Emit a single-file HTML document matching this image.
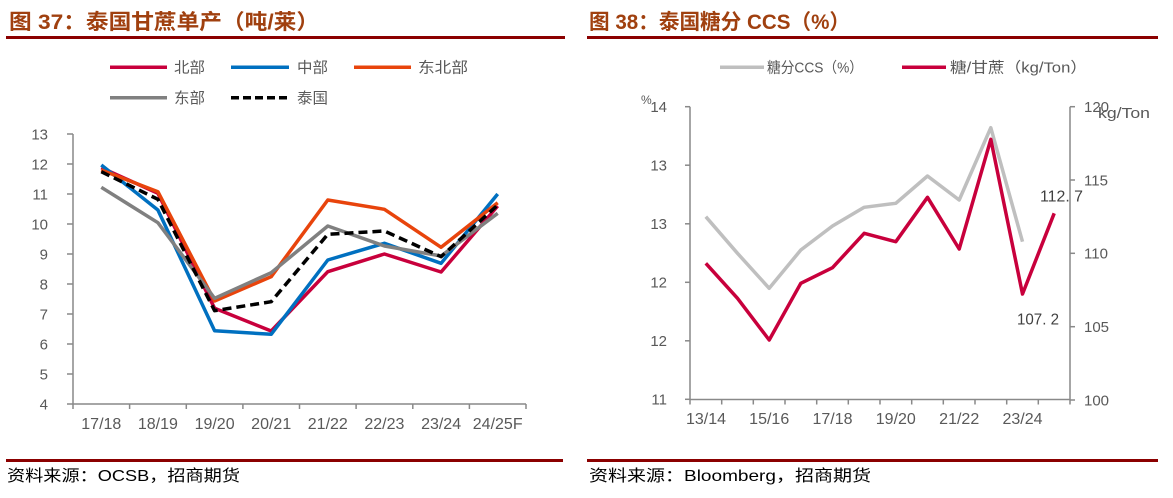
<!DOCTYPE html>
<html>
<head>
<meta charset="utf-8">
<style>
html,body{margin:0;padding:0;background:#fff;}
svg{display:block;}
text{font-family:"Liberation Sans","Noto Sans CJK SC",sans-serif;}
</style>
</head>
<body>
<svg width="1173" height="498" viewBox="0 0 1173 498" xmlns="http://www.w3.org/2000/svg">
<rect width="1173" height="498" fill="#ffffff"/>

<!-- Titles -->
<text x="9" y="29" font-size="21" font-weight="bold" fill="#A0400F" textLength="310" lengthAdjust="spacingAndGlyphs">图 37：泰国甘蔗单产（吨/莱）</text>
<text x="589" y="29" font-size="21" font-weight="bold" fill="#A0400F" textLength="261" lengthAdjust="spacingAndGlyphs">图 38：泰国糖分 CCS（%）</text>
<rect x="6" y="36" width="559" height="3" fill="#8B0000"/>
<rect x="587" y="36" width="571" height="3" fill="#8B0000"/>

<!-- Footer -->
<rect x="6" y="459" width="557" height="3" fill="#8B0000"/>
<rect x="587" y="459" width="571" height="3" fill="#8B0000"/>
<text x="7" y="481" font-size="16" fill="#000" textLength="233" lengthAdjust="spacingAndGlyphs">资料来源：OCSB，招商期货</text>
<text x="589" y="481" font-size="16" fill="#000" textLength="282" lengthAdjust="spacingAndGlyphs">资料来源：Bloomberg，招商期货</text>

<!-- ===== Left chart legend ===== -->
<g font-size="15" fill="#595959">
<line x1="110" y1="67.3" x2="167" y2="67.3" stroke="#C8003C" stroke-width="3.5"/>
<text x="174" y="72.5" textLength="31" lengthAdjust="spacingAndGlyphs">北部</text>
<line x1="231" y1="67.3" x2="289" y2="67.3" stroke="#0070C0" stroke-width="3.5"/>
<text x="297" y="72.5" textLength="31" lengthAdjust="spacingAndGlyphs">中部</text>
<line x1="354" y1="67.3" x2="411" y2="67.3" stroke="#E8440C" stroke-width="3.5"/>
<text x="418" y="72.5" textLength="50" lengthAdjust="spacingAndGlyphs">东北部</text>
<line x1="110" y1="97.7" x2="167" y2="97.7" stroke="#808080" stroke-width="3.5"/>
<text x="174" y="103" textLength="31" lengthAdjust="spacingAndGlyphs">东部</text>
<line x1="231" y1="97.7" x2="289" y2="97.7" stroke="#000" stroke-width="3.5" stroke-dasharray="8,4"/>
<text x="297" y="103" textLength="31" lengthAdjust="spacingAndGlyphs">泰国</text>
</g>

<!-- ===== Left chart axes ===== -->
<g stroke="#898989" stroke-width="1.5" fill="none">
<line x1="73" y1="134" x2="73" y2="404"/>
<line x1="73" y1="404" x2="526" y2="404"/>
<line x1="67" y1="134" x2="73" y2="134"/>
<line x1="67" y1="164" x2="73" y2="164"/>
<line x1="67" y1="194" x2="73" y2="194"/>
<line x1="67" y1="224" x2="73" y2="224"/>
<line x1="67" y1="254" x2="73" y2="254"/>
<line x1="67" y1="284" x2="73" y2="284"/>
<line x1="67" y1="314" x2="73" y2="314"/>
<line x1="67" y1="344" x2="73" y2="344"/>
<line x1="67" y1="374" x2="73" y2="374"/>
<line x1="67" y1="404" x2="73" y2="404"/>
<line x1="73" y1="404" x2="73" y2="409"/>
<line x1="129.6" y1="404" x2="129.6" y2="409"/>
<line x1="186.3" y1="404" x2="186.3" y2="409"/>
<line x1="242.9" y1="404" x2="242.9" y2="409"/>
<line x1="299.5" y1="404" x2="299.5" y2="409"/>
<line x1="356.1" y1="404" x2="356.1" y2="409"/>
<line x1="412.8" y1="404" x2="412.8" y2="409"/>
<line x1="469.4" y1="404" x2="469.4" y2="409"/>
<line x1="526" y1="404" x2="526" y2="409"/>
</g>
<g font-size="15" fill="#595959" text-anchor="end">
<text x="48" y="139.5">13</text>
<text x="48" y="169.5">12</text>
<text x="48" y="199.5">11</text>
<text x="48" y="229.5">10</text>
<text x="48" y="259.5">9</text>
<text x="48" y="289.5">8</text>
<text x="48" y="319.5">7</text>
<text x="48" y="349.5">6</text>
<text x="48" y="379.5">5</text>
<text x="48" y="409.5">4</text>
</g>
<g font-size="16" fill="#595959" text-anchor="middle">
<text x="101.3" y="429">17/18</text>
<text x="157.9" y="429">18/19</text>
<text x="214.6" y="429">19/20</text>
<text x="271.2" y="429">20/21</text>
<text x="327.8" y="429">21/22</text>
<text x="384.4" y="429">22/23</text>
<text x="441.1" y="429">23/24</text>
<text x="497.7" y="429">24/25F</text>
</g>

<!-- ===== Left chart series ===== -->
<g fill="none" stroke-width="3.5" stroke-linejoin="round">
<polyline stroke="#C8003C" points="101.3,167.7 157.9,193.3 214.6,308.3 271.2,331 327.8,271.7 384.4,254 441.1,272 497.7,206"/>
<polyline stroke="#0070C0" points="101.3,165 157.9,210 214.6,330.7 271.2,334.3 327.8,260 384.4,243.3 441.1,263.3 497.7,194"/>
<polyline stroke="#E8440C" points="101.3,170 157.9,191.7 214.6,301 271.2,276.7 327.8,200 384.4,209.3 441.1,247.3 497.7,202.7"/>
<polyline stroke="#808080" points="101.3,187.3 157.9,222.7 214.6,298.3 271.2,272.7 327.8,226 384.4,246 441.1,256 497.7,213.3"/>
<polyline stroke="#000000" stroke-dasharray="9,5" points="101.3,171.7 157.9,199.3 214.6,310.7 271.2,301.7 327.8,234.3 384.4,231 441.1,256.7 497.7,205"/>
</g>

<!-- ===== Right chart legend ===== -->
<g font-size="15" fill="#595959">
<line x1="720" y1="67.3" x2="764" y2="67.3" stroke="#BFBFBF" stroke-width="3.5"/>
<text x="767" y="72.5" textLength="96" lengthAdjust="spacingAndGlyphs">糖分CCS（%）</text>
<line x1="902" y1="67.3" x2="946" y2="67.3" stroke="#C8003C" stroke-width="3.5"/>
<text x="950" y="72.5" textLength="137" lengthAdjust="spacingAndGlyphs">糖/甘蔗（kg/Ton）</text>
</g>

<!-- ===== Right chart axes ===== -->
<g stroke="#898989" stroke-width="1.5" fill="none">
<line x1="690" y1="106.7" x2="690" y2="399.3"/>
<line x1="1070" y1="106.7" x2="1070" y2="400"/>
<line x1="690" y1="399.5" x2="1070" y2="399.5"/>
<line x1="685" y1="106.7" x2="690" y2="106.7"/>
<line x1="685" y1="165.2" x2="690" y2="165.2"/>
<line x1="685" y1="223.8" x2="690" y2="223.8"/>
<line x1="685" y1="282.3" x2="690" y2="282.3"/>
<line x1="685" y1="340.8" x2="690" y2="340.8"/>
<line x1="685" y1="399.3" x2="690" y2="399.3"/>
<line x1="1070" y1="106.7" x2="1075" y2="106.7"/>
<line x1="1070" y1="180" x2="1075" y2="180"/>
<line x1="1070" y1="253.3" x2="1075" y2="253.3"/>
<line x1="1070" y1="326.7" x2="1075" y2="326.7"/>
<line x1="1070" y1="400" x2="1075" y2="400"/>
<line x1="690" y1="399.5" x2="690" y2="404.5"/>
<line x1="721.7" y1="399.5" x2="721.7" y2="404.5"/>
<line x1="753.3" y1="399.5" x2="753.3" y2="404.5"/>
<line x1="785" y1="399.5" x2="785" y2="404.5"/>
<line x1="816.7" y1="399.5" x2="816.7" y2="404.5"/>
<line x1="848.3" y1="399.5" x2="848.3" y2="404.5"/>
<line x1="880" y1="399.5" x2="880" y2="404.5"/>
<line x1="911.7" y1="399.5" x2="911.7" y2="404.5"/>
<line x1="943.3" y1="399.5" x2="943.3" y2="404.5"/>
<line x1="975" y1="399.5" x2="975" y2="404.5"/>
<line x1="1006.7" y1="399.5" x2="1006.7" y2="404.5"/>
<line x1="1038.3" y1="399.5" x2="1038.3" y2="404.5"/>
<line x1="1070" y1="399.5" x2="1070" y2="404.5"/>
</g>
<g font-size="15" fill="#595959" text-anchor="end">
<text x="667" y="112">14</text>
<text x="667" y="170.5">13</text>
<text x="667" y="229">13</text>
<text x="667" y="287.5">12</text>
<text x="667" y="346">12</text>
<text x="667" y="404.5">11</text>
</g>
<text x="641" y="104" font-size="12" fill="#595959">%</text>
<g font-size="15" fill="#595959">
<text x="1084" y="112">120</text>
<text x="1084" y="185.3">115</text>
<text x="1084" y="258.6">110</text>
<text x="1084" y="332">105</text>
<text x="1084" y="405.3">100</text>
<text x="1098" y="118" textLength="52" lengthAdjust="spacingAndGlyphs">kg/Ton</text>
</g>
<g font-size="16" fill="#595959" text-anchor="middle">
<text x="706" y="424">13/14</text>
<text x="769.2" y="424">15/16</text>
<text x="832.5" y="424">17/18</text>
<text x="895.8" y="424">19/20</text>
<text x="959.2" y="424">21/22</text>
<text x="1022.5" y="424">23/24</text>
</g>

<!-- ===== Right chart series ===== -->
<g fill="none" stroke-width="3.5" stroke-linejoin="round">
<polyline stroke="#BFBFBF" points="705.8,216.7 737.5,253.3 769.2,288.3 800.8,250 832.5,226 864.2,207.3 895.8,203.3 927.5,176 959.2,200 990.8,127.7 1022.5,241.7"/>
<polyline stroke="#C8003C" points="705.8,263.3 737.5,298.3 769.2,340 800.8,283.3 832.5,267.7 864.2,233.3 895.8,241.7 927.5,197.3 959.2,249 990.8,139.3 1022.5,294 1054.2,213.3"/>
</g>
<g font-size="16" fill="#404040">
<text x="1040" y="201.5" textLength="43" lengthAdjust="spacingAndGlyphs">112. 7</text>
<text x="1017" y="324.5" textLength="42" lengthAdjust="spacingAndGlyphs">107. 2</text>
</g>
</svg>
</body>
</html>
